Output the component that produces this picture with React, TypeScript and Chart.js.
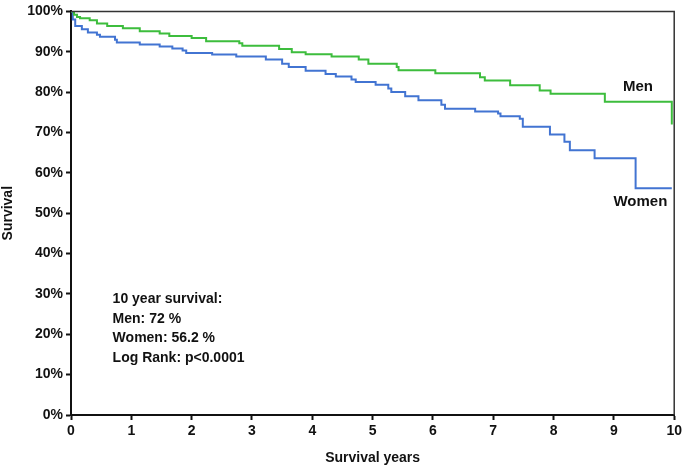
import React, { useEffect, useRef } from 'react';
import { Chart, registerables } from 'chart.js';

Chart.register(...registerables);

// Kaplan-Meier steps: time (years) and survival (%) after each drop
const menYears = [0, 0.05, 0.1, 0.15, 0.31, 0.43, 0.6, 0.86, 1.14, 1.47, 1.63, 2.0, 2.24, 2.79, 2.84, 3.45, 3.66, 3.89, 4.32, 4.77, 4.93, 5.4, 5.43, 6.04, 6.78, 6.86, 7.28, 7.77, 7.95, 8.85, 9.96];
const menSurvival = [100, 99.2, 98.6, 98.3, 97.8, 97.0, 96.4, 95.8, 95.1, 94.5, 93.9, 93.4, 92.6, 92.1, 91.5, 90.7, 89.9, 89.4, 88.8, 88.1, 87.0, 86.2, 85.4, 84.7, 83.7, 82.9, 81.7, 80.4, 79.6, 77.6, 72.0];

const womenYears = [0, 0.03, 0.07, 0.18, 0.28, 0.43, 0.48, 0.73, 0.76, 1.14, 1.47, 1.68, 1.85, 1.91, 2.34, 2.74, 3.23, 3.5, 3.61, 3.89, 4.22, 4.39, 4.65, 4.72, 5.05, 5.26, 5.31, 5.54, 5.76, 6.14, 6.2, 6.7, 7.08, 7.12, 7.44, 7.49, 7.94, 8.18, 8.27, 8.68, 9.36, 9.96];
const womenSurvival = [100, 98.0, 96.4, 95.6, 94.8, 94.2, 93.7, 93.0, 92.3, 91.8, 91.3, 90.8, 90.3, 89.7, 89.3, 88.8, 88.1, 87.0, 86.2, 85.3, 84.5, 83.9, 83.1, 82.5, 81.8, 80.9, 80.0, 79.0, 78.0, 76.9, 75.9, 75.2, 74.7, 74.0, 73.4, 71.4, 69.5, 67.7, 65.6, 63.6, 56.2, 56.2];

const noteLines = ['10 year survival:', 'Men: 72 %', 'Women: 56.2 %', 'Log Rank: p<0.0001'];

const FONT = '"Liberation Sans", Arial, sans-serif';

const toPoints = (xs: number[], ys: number[]) => xs.map((x, i) => ({ x, y: ys[i] }));

const overlayPlugin = {
  id: 'overlay',
  afterDraw(chart: any) {
    const { ctx, chartArea, scales } = chart;
    const xs = scales.x;
    const ys = scales.y;
    ctx.save();
    // top and right frame
    ctx.strokeStyle = '#333';
    ctx.lineWidth = 1.5;
    ctx.beginPath();
    ctx.moveTo(chartArea.left, chartArea.top);
    ctx.lineTo(chartArea.right, chartArea.top);
    ctx.lineTo(chartArea.right, chartArea.bottom);
    ctx.stroke();

    ctx.fillStyle = '#111';
    ctx.font = `bold 15px ${FONT}`;
    ctx.textAlign = 'center';
    ctx.textBaseline = 'middle';
    ctx.fillText('Men', xs.getPixelForValue(9.4), ys.getPixelForValue(81.3));
    ctx.fillText('Women', xs.getPixelForValue(9.44), ys.getPixelForValue(52.7));

    ctx.font = `bold 14px ${FONT}`;
    ctx.textAlign = 'left';
    const x0 = xs.getPixelForValue(0.69);
    const y0 = ys.getPixelForValue(28.6);
    noteLines.forEach((t, i) => ctx.fillText(t, x0, y0 + i * 19.5));
    ctx.restore();
  },
};

const SurvivalChart: React.FC = () => {
  const chartRef = useRef<HTMLCanvasElement>(null);
  const chartInstance = useRef<Chart | null>(null);

  useEffect(() => {
    document.body.style.margin = '0';
    if (chartRef.current) {
      const ctx = chartRef.current.getContext('2d');
      if (ctx) {
        if (chartInstance.current) {
          chartInstance.current.destroy();
        }

        chartInstance.current = new Chart(ctx, {
          type: 'line',
          data: {
            datasets: [{
              label: 'Men',
              data: toPoints(menYears, menSurvival),
              borderColor: '#3dbd3d',
              borderWidth: 2,
              pointRadius: 0,
              stepped: 'before',
              fill: false
            }, {
              label: 'Women',
              data: toPoints(womenYears, womenSurvival),
              borderColor: '#4274d2',
              borderWidth: 2,
              pointRadius: 0,
              stepped: 'before',
              fill: false
            }]
          },
          options: {
            animation: false,
            responsive: false,
            maintainAspectRatio: false,
            layout: {
              padding: { top: 9, right: 9, left: 0, bottom: 0 }
            },
            plugins: {
              legend: { display: false },
              tooltip: { enabled: false }
            },
            scales: {
              x: {
                type: 'linear',
                min: 0,
                max: 10,
                afterFit: (s: any) => { s.height = 54; },
                ticks: {
                  stepSize: 1,
                  color: '#111',
                  padding: 3,
                  maxRotation: 0,
                  font: { family: FONT, size: 14, weight: 'bold' }
                },
                grid: {
                  drawOnChartArea: false,
                  drawTicks: true,
                  tickLength: 5,
                  tickWidth: 2,
                  color: '#111'
                },
                border: { color: '#111', width: 2 },
                title: {
                  display: true,
                  text: 'Survival years',
                  color: '#111',
                  padding: { top: 0, bottom: 2 },
                  font: { family: FONT, size: 14, weight: 'bold' }
                }
              },
              y: {
                min: 0,
                max: 100,
                afterFit: (s: any) => { s.width = 71; },
                ticks: {
                  stepSize: 10,
                  color: '#111',
                  padding: 3,
                  callback: (v: any) => v + '%',
                  font: { family: FONT, size: 14, weight: 'bold' }
                },
                grid: {
                  drawOnChartArea: false,
                  drawTicks: true,
                  tickLength: 5,
                  tickWidth: 2,
                  color: '#111'
                },
                border: { color: '#111', width: 2 },
                title: {
                  display: true,
                  text: 'Survival',
                  color: '#111',
                  padding: 0,
                  font: { family: FONT, size: 14, weight: 'bold' }
                }
              }
            }
          },
          plugins: [overlayPlugin]
        });
      }
    }

    return () => {
      if (chartInstance.current) {
        chartInstance.current.destroy();
      }
    };
  }, []);

  return <canvas ref={chartRef} width={685} height={469} style={{ display: 'block', width: '685px', height: '469px' }} />;
};

export default function App() {
  return <SurvivalChart />;
}
